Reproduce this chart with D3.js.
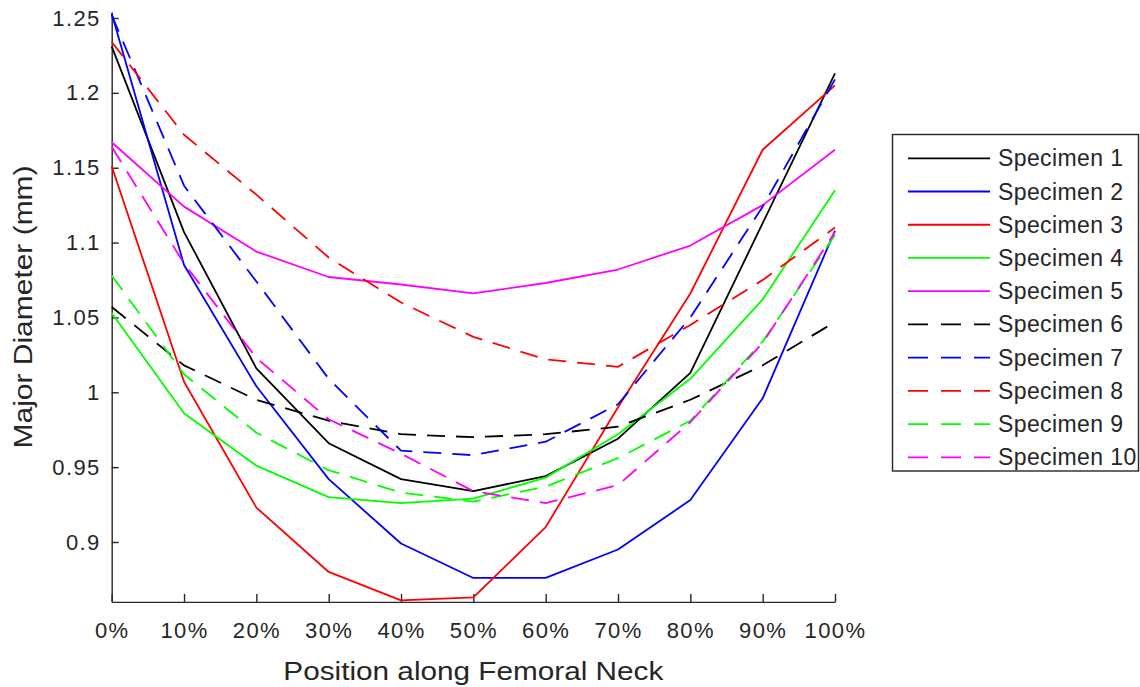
<!DOCTYPE html>
<html>
<head>
<meta charset="utf-8">
<script src="https://cdn.jsdelivr.net/npm/d3@7"></script>
<style>
  html, body { margin: 0; padding: 0; background: #fff; }
  svg { display: block; font-family: "Liberation Sans", Arial, Helvetica, sans-serif; }
</style>
</head>
<body>
<svg id="chart" width="1140" height="687"></svg>
<script>
// Position along the femoral neck (%)
const positions = [0, 10, 20, 30, 40, 50, 60, 70, 80, 90, 100];

// Major diameter (mm) for each specimen at each position
const specimen1  = [1.231, 1.107, 1.016, 0.966, 0.942, 0.934, 0.944, 0.969, 1.013, 1.113, 1.213];
const specimen2  = [1.253, 1.085, 1.004, 0.942, 0.899, 0.876, 0.876, 0.895, 0.928, 0.996, 1.108];
const specimen3  = [1.151, 1.007, 0.923, 0.880, 0.861, 0.863, 0.910, 0.990, 1.066, 1.162, 1.205];
const specimen4  = [1.053, 0.986, 0.951, 0.930, 0.926, 0.929, 0.943, 0.972, 1.009, 1.062, 1.135];
const specimen5  = [1.167, 1.124, 1.094, 1.077, 1.072, 1.066, 1.073, 1.082, 1.098, 1.125, 1.162];
const specimen6  = [1.057, 1.018, 0.995, 0.981, 0.972, 0.970, 0.972, 0.977, 0.995, 1.018, 1.047];
const specimen7  = [1.252, 1.138, 1.074, 1.009, 0.961, 0.958, 0.967, 0.992, 1.050, 1.124, 1.209];
const specimen8  = [1.234, 1.172, 1.132, 1.090, 1.060, 1.037, 1.022, 1.017, 1.045, 1.075, 1.110];
const specimen9  = [1.078, 1.012, 0.973, 0.948, 0.933, 0.927, 0.937, 0.956, 0.981, 1.034, 1.105];
const specimen10 = [1.164, 1.086, 1.023, 0.982, 0.959, 0.934, 0.926, 0.938, 0.980, 1.033, 1.107];

const seriesNames = ["Specimen 1", "Specimen 2", "Specimen 3", "Specimen 4", "Specimen 5",
                     "Specimen 6", "Specimen 7", "Specimen 8", "Specimen 9", "Specimen 10"];
const seriesValues = [specimen1, specimen2, specimen3, specimen4, specimen5,
                      specimen6, specimen7, specimen8, specimen9, specimen10];

// Axis ticks
const yTicks = [0.9, 0.95, 1.0, 1.05, 1.1, 1.15, 1.2, 1.25];
const xTicks = [0, 10, 20, 30, 40, 50, 60, 70, 80, 90, 100];

// Line styles: colour and dashing per specimen
const lineColors = ["#000000", "#0000ff", "#ff0000", "#00ff00", "#ff00ff",
                    "#000000", "#0000ff", "#ff0000", "#00ff00", "#ff00ff"];
const lineDashes = [null, null, null, null, null, "18,11", "18,11", "18,11", "18,11", "18,11"];

const axisColor = "#262626";

const svg = d3.select("#chart");

const x = d3.scaleLinear().domain([0, 100]).range([111.7, 835]);
const y = d3.scaleLinear().domain([0.86, 1.254]).range([601.9, 12]);

// Axes (ticks point into the plot, no box)
const yAxis = d3.axisLeft(y)
  .tickValues(yTicks)
  .tickFormat(d => String(+d.toFixed(2)))
  .tickSizeInner(-7).tickSizeOuter(0).tickPadding(11);

const xAxis = d3.axisBottom(x)
  .tickValues(xTicks)
  .tickFormat(d => d + "%")
  .tickSizeInner(-8).tickSizeOuter(0).tickPadding(20);

const gy = svg.append("g").attr("transform", `translate(${x(0)},0)`).call(yAxis);
const gx = svg.append("g").attr("transform", `translate(0,${y(0.86)})`).call(xAxis);

[gx, gy].forEach(g => {
  g.select(".domain").attr("stroke", axisColor).attr("stroke-width", 1.4);
  g.selectAll(".tick line").attr("stroke", axisColor).attr("stroke-width", 1.4);
  g.selectAll(".tick text")
    .attr("fill", axisColor)
    .style("font-size", "22px")
    .style("font-family", "'Liberation Sans', Arial, sans-serif")
    .style("letter-spacing", "1.4px");
});

// Data lines
const line = d3.line()
  .x((d, i) => x(positions[i]))
  .y(d => y(d));

const plot = svg.append("g");
seriesValues.forEach((vals, k) => {
  plot.append("path")
    .datum(vals)
    .attr("d", line)
    .attr("fill", "none")
    .attr("stroke", lineColors[k])
    .attr("stroke-width", 1.8)
    .attr("stroke-linejoin", "round")
    .attr("stroke-dasharray", lineDashes[k]);
});

// Axis titles
svg.append("text")
  .attr("x", (x(0) + x(100)) / 2)
  .attr("y", 680)
  .attr("text-anchor", "middle")
  .attr("fill", axisColor)
  .attr("textLength", 380)
  .attr("lengthAdjust", "spacingAndGlyphs")
  .style("font-size", "25px")
  .text("Position along Femoral Neck");

svg.append("text")
  .attr("transform", `translate(32,${(y(0.86) + y(1.254)) / 2}) rotate(-90)`)
  .attr("text-anchor", "middle")
  .attr("fill", axisColor)
  .attr("textLength", 283)
  .attr("lengthAdjust", "spacingAndGlyphs")
  .style("font-size", "25px")
  .text("Major Diameter (mm)");

// Legend
const legend = svg.append("g");
legend.append("rect")
  .attr("x", 892.5).attr("y", 134.5)
  .attr("width", 246).attr("height", 336.5)
  .attr("fill", "#fff")
  .attr("stroke", axisColor)
  .attr("stroke-width", 1.4);

const rowY = d3.scaleLinear().domain([0, 9]).range([158.3, 457.3]);
seriesNames.forEach((name, k) => {
  const yy = rowY(k);
  legend.append("line")
    .attr("x1", 908).attr("x2", 990)
    .attr("y1", yy).attr("y2", yy)
    .attr("stroke", lineColors[k])
    .attr("stroke-width", 1.8)
    .attr("stroke-dasharray", lineDashes[k] ? "20,13" : null);
  legend.append("text")
    .attr("x", 998).attr("y", yy + 8)
    .attr("fill", axisColor)
    .style("font-size", "23px")
    .style("letter-spacing", "0.4px")
    .text(name);
});
</script>
</body>
</html>
